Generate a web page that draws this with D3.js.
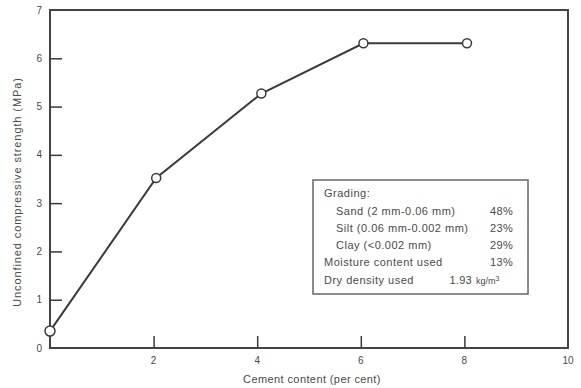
<!DOCTYPE html>
<html><head><meta charset="utf-8">
<script src="https://cdn.jsdelivr.net/npm/d3@7"></script>
<style>body{margin:0;background:#fff}svg{display:block}text{font-family:"Liberation Sans",Arial,sans-serif;fill:#4a4a4a}</style>
</head><body>
<script>
const cement = [0, 2.05, 4.08, 6.05, 8.05];
const strength = [0.35, 3.52, 5.27, 6.31, 6.31];
const xTicks = [2, 4, 6, 8];
const yTicks = [1, 2, 3, 4, 5, 6];
const xLabels = [2, 4, 6, 8, 10];
const yLabels = [0, 1, 2, 3, 4, 5, 6, 7];
const legendLabels = ["Grading:", "Sand (2 mm-0.06 mm)", "Silt (0.06 mm-0.002 mm)", "Clay (<0.002 mm)", "Moisture content used", "Dry density used"];
const legendIndent = [false, true, true, true, false, false];
const legendValues = ["", "48%", "23%", "29%", "13%", "1.93"];

const W = 581, H = 388;
const svg = d3.select("body").append("svg").attr("width", W).attr("height", H);
const x = d3.scaleLinear().domain([0, 10]).range([50, 568]);
const y = d3.scaleLinear().domain([0, 7]).range([348, 10]);
const ink = "#3a3a3a";

// frame
svg.append("rect").attr("x", x(0)).attr("y", y(7)).attr("width", x(10) - x(0)).attr("height", y(0) - y(7))
  .attr("fill", "none").attr("stroke", "#444").attr("stroke-width", 2);

// ticks (inward)
svg.append("g").attr("transform", `translate(0,${y(0)})`)
  .call(d3.axisBottom(x).tickValues(xTicks).tickSize(-12).tickFormat(""))
  .call(g => { g.select(".domain").remove(); g.selectAll("line").attr("stroke", ink).attr("stroke-width", 1.5); });
svg.append("g").attr("transform", `translate(${x(0)},0)`)
  .call(d3.axisLeft(y).tickValues(yTicks).tickSize(-12).tickFormat(""))
  .call(g => { g.select(".domain").remove(); g.selectAll("line").attr("stroke", ink).attr("stroke-width", 1.5); });

// tick labels
svg.selectAll(".xl").data(xLabels).join("text").attr("x", d => x(d)).attr("y", y(0) + 16)
  .attr("text-anchor", "middle").attr("font-size", 10).text(d => d);
svg.selectAll(".yl").data(yLabels).join("text").attr("x", x(0) - 8).attr("y", d => y(d) + 3.5)
  .attr("text-anchor", "end").attr("font-size", 10).text(d => d);

// axis titles
svg.append("text").attr("x", 312).attr("y", 383).attr("text-anchor", "middle").attr("font-size", 11)
  .attr("letter-spacing", 0.4).text("Cement content (per cent)");
svg.append("text").attr("transform", "translate(21,192) rotate(-90)").attr("text-anchor", "middle").attr("font-size", 11)
  .attr("letter-spacing", 0.9).text("Unconfined compressive strength (MPa)");

// line + points
const pts = cement.map((c, i) => [c, strength[i]]);
svg.append("path").datum(pts).attr("fill", "none").attr("stroke", ink).attr("stroke-width", 2)
  .attr("d", d3.line().x(d => x(d[0])).y(d => y(d[1])));
svg.selectAll(".pt").data(pts).join("circle").attr("cx", d => x(d[0])).attr("cy", d => y(d[1]))
  .attr("r", (d, i) => i === 0 ? 5 : 4.5).attr("fill", "#fff").attr("stroke", ink).attr("stroke-width", 1.5);

// legend box
const lg = svg.append("g");
lg.append("rect").attr("x", 313).attr("y", 180).attr("width", 215).attr("height", 114)
  .attr("fill", "#fff").attr("stroke", "#666").attr("stroke-width", 1.5);
const rowY = [197, 215, 232, 249, 266, 284];
lg.selectAll(".ll").data(legendLabels).join("text")
  .attr("x", (d, i) => legendIndent[i] ? 336 : 324).attr("y", (d, i) => rowY[i])
  .attr("font-size", 11).attr("letter-spacing", 0.5).text(d => d);
lg.selectAll(".lv").data(legendValues).join("text")
  .attr("x", (d, i) => i === 5 ? 472 : 513).attr("y", (d, i) => rowY[i])
  .attr("text-anchor", "end").attr("font-size", 11).attr("letter-spacing", 0.3).text(d => d);
const kg = lg.append("text").attr("x", 476).attr("y", rowY[5]).attr("font-size", 9);
kg.append("tspan").text("kg/m");
kg.append("tspan").attr("font-size", 7).attr("dy", -3).text("3");
</script>
</body></html>
